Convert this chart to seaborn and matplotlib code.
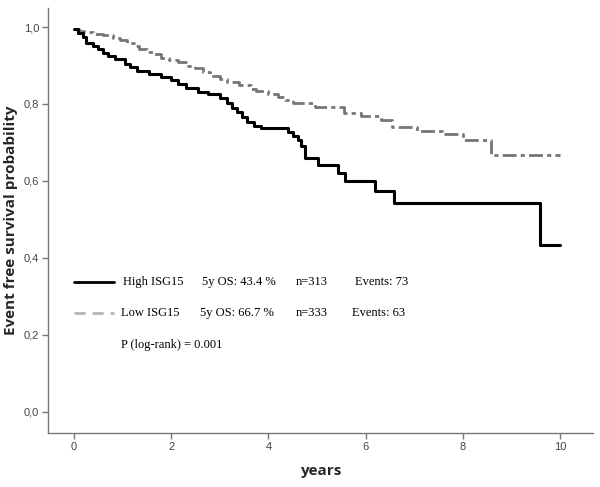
import matplotlib
matplotlib.use("Agg")
import matplotlib.pyplot as plt
import seaborn as sns
import pandas as pd
from matplotlib.lines import Line2D
from matplotlib.ticker import FuncFormatter

# ---- data ----
high_time = [0.00, 0.08, 0.18, 0.26, 0.40, 0.50, 0.60, 0.70, 0.85, 1.05, 1.15, 1.30, 1.55,
             1.80, 2.00, 2.15, 2.30, 2.55, 2.75, 3.00, 3.15, 3.25, 3.35, 3.45, 3.57, 3.70,
             3.85, 4.40, 4.50, 4.60, 4.67, 4.75, 5.03, 5.43, 5.58, 6.20, 6.59, 9.59, 10.00]
high_surv = [0.995, 0.985, 0.974, 0.958, 0.950, 0.942, 0.932, 0.924, 0.916, 0.905, 0.895,
             0.886, 0.878, 0.870, 0.862, 0.852, 0.842, 0.832, 0.826, 0.816, 0.802, 0.790,
             0.778, 0.766, 0.753, 0.742, 0.737, 0.728, 0.718, 0.706, 0.690, 0.660, 0.642,
             0.620, 0.600, 0.574, 0.543, 0.434, 0.434]

low_time = [0.00, 0.10, 0.20, 0.40, 0.60, 0.80, 0.95, 1.10, 1.25, 1.35, 1.50, 1.65, 1.80,
            1.95, 2.15, 2.35, 2.50, 2.65, 2.80, 3.00, 3.15, 3.40, 3.65, 3.75, 4.00, 4.20,
            4.35, 4.50, 4.95, 5.56, 5.90, 6.31, 6.55, 7.06, 7.56, 8.00, 8.58, 10.00]
low_surv = [0.995, 0.990, 0.986, 0.982, 0.978, 0.972, 0.965, 0.958, 0.950, 0.944, 0.936,
            0.929, 0.920, 0.914, 0.908, 0.900, 0.894, 0.882, 0.874, 0.866, 0.858, 0.850,
            0.840, 0.834, 0.826, 0.818, 0.810, 0.802, 0.792, 0.777, 0.769, 0.758, 0.741,
            0.730, 0.721, 0.706, 0.667, 0.667]

groups = ["High ISG15", "Low ISG15"]
os5 = ["5y OS: 43.4 %", "5y OS: 66.7 %"]
n_text = ["n=313", "n=333"]
events_text = ["Events: 73", "Events: 63"]
p_text = "P (log-rank) = 0.001"
x_ticks = [0, 2, 4, 6, 8, 10]
y_ticks = [0.0, 0.2, 0.4, 0.6, 0.8, 1.0]

df_high = pd.DataFrame({"years": high_time, "surv": high_surv})
df_low = pd.DataFrame({"years": low_time, "surv": low_surv})

sns.set_style("white")
fig = plt.figure(figsize=(6.0, 4.87), dpi=100)
ax = fig.add_axes([0.08, 0.111, 0.908, 0.873])

sns.lineplot(data=df_low, x="years", y="surv", ax=ax, drawstyle="steps-post",
             color="#767676", linewidth=2.0, dashes=False, estimator=None)
ax.lines[-1].set_dashes([5, 1.5, 1.5, 1.5])
sns.lineplot(data=df_high, x="years", y="surv", ax=ax, drawstyle="steps-post",
             color="black", linewidth=2.2, estimator=None)

ax.set_xlim(-0.53, 10.67)
ax.set_ylim(-0.055, 1.05)
ax.set_xticks(x_ticks)
ax.set_yticks(y_ticks)
ax.yaxis.set_major_formatter(FuncFormatter(lambda v, p: f"{v:.1f}".replace(".", ",")))
ax.xaxis.set_major_formatter(FuncFormatter(lambda v, p: f"{v:g}"))

for side in ["top", "right"]:
    ax.spines[side].set_visible(False)
for side in ["left", "bottom"]:
    ax.spines[side].set_color("#777777")
    ax.spines[side].set_linewidth(1.0)
ax.tick_params(axis="both", which="major", direction="out", length=4.5, width=1.0,
               color="#777777", labelcolor="#444444", labelsize=7.5, pad=2,
               left=True, bottom=True)
for lab in ax.get_xticklabels() + ax.get_yticklabels():
    lab.set_family("Liberation Sans")
    lab.set_fontsize(8)

ax.set_xlabel("years", fontsize=11, fontweight="bold", family="Open Sans", labelpad=9)
ax.set_ylabel("Event free survival probability", fontsize=11, fontweight="bold",
              family="Open Sans", labelpad=4)

# custom legend block
serif = "Liberation Serif"
tr = ax.transAxes
rows_y = [0.355, 0.282]
styles = [dict(color="black", lw=2.0, ls="-"),
          dict(color="#b5b5b5", lw=2.0, ls=(0, (4, 2.5)))]
label_x = [0.138, 0.134]
os_x = [0.282, 0.279]
n_x = [0.455, 0.455]
ev_x = [0.563, 0.558]
for i in range(2):
    ax.add_line(Line2D([0.048, 0.121], [rows_y[i], rows_y[i]], transform=tr, **styles[i]))
    kw = dict(transform=tr, va="center", ha="left", fontsize=9, family=serif, color="black")
    ax.text(label_x[i], rows_y[i], groups[i], **kw)
    ax.text(os_x[i], rows_y[i], os5[i], **kw)
    ax.text(n_x[i], rows_y[i], n_text[i], **kw)
    ax.text(ev_x[i], rows_y[i], events_text[i], **kw)
ax.text(0.134, 0.207, p_text, transform=tr, va="center", ha="left", fontsize=9,
        family=serif, color="black")

fig.savefig("out.png", dpi=100)
